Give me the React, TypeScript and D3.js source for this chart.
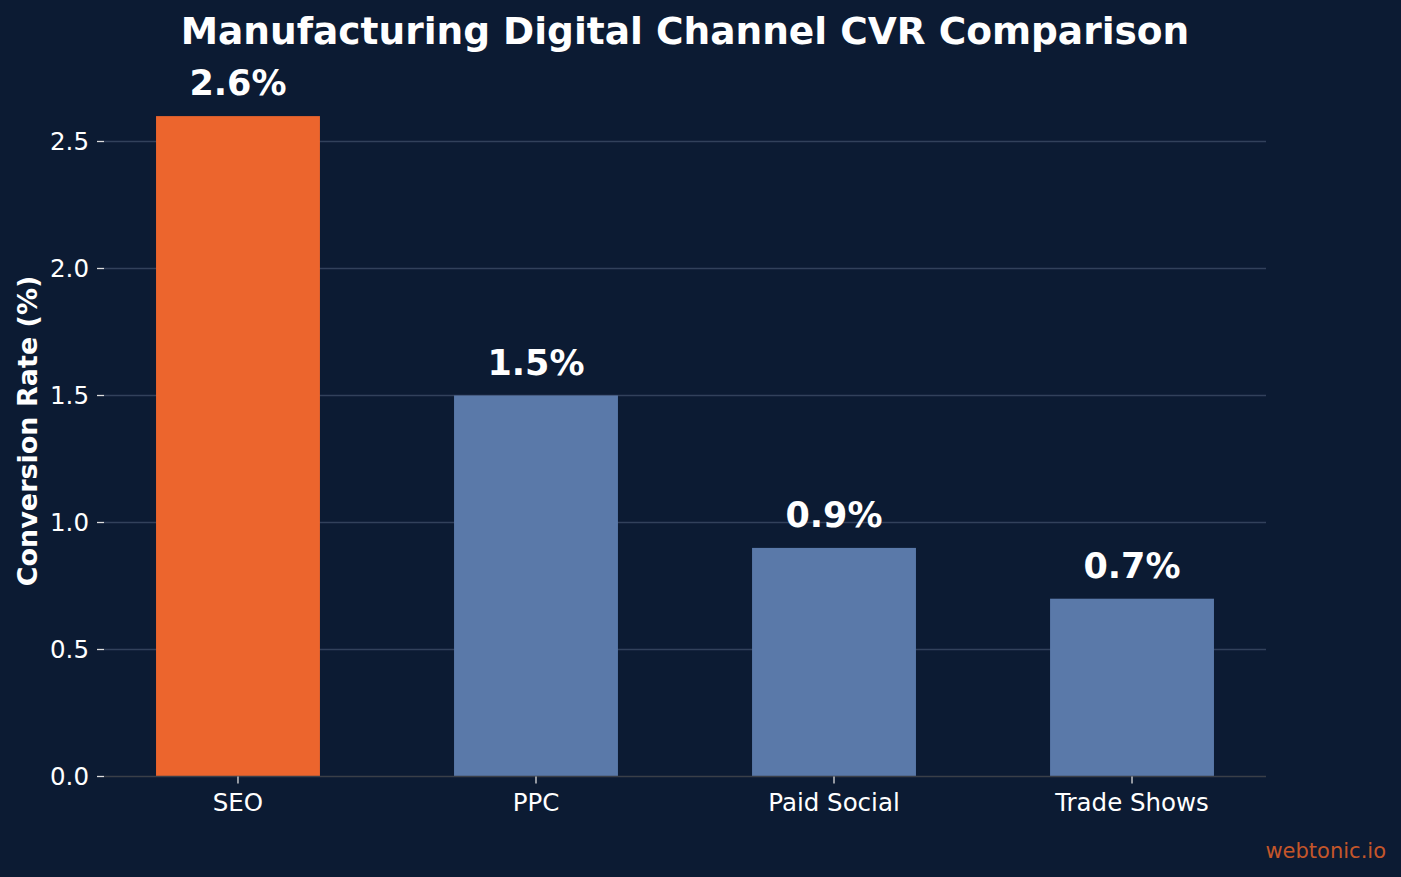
import React from "react";
import * as d3 from "d3";

const channels = ["SEO", "PPC", "Paid Social", "Trade Shows"];
const cvr = [2.6, 1.5, 0.9, 0.7];
const yTicks = [0.0, 0.5, 1.0, 1.5, 2.0, 2.5];

const W = 1401;
const H = 877;
const bg = "#0c1b33";
const font = "'DejaVu Sans', sans-serif";

export default function App() {
  const left = 104;
  const right = 1266;
  const base = 776.5;

  // bar width 0.55 of each slot, plus a 5% margin at both ends
  const x = d3
    .scaleBand<string>()
    .domain(channels)
    .range([left, right])
    .paddingInner(0.45)
    .paddingOuter(0.1746);

  const y = d3.scaleLinear().domain([0, 2.5]).range([base, 141.5]);

  return (
    <svg
      width={W}
      height={H}
      style={{ position: "absolute", left: 0, top: 0, background: bg }}
      fontFamily={font}
    >
      <rect width={W} height={H} fill={bg} />
      <text x={685} y={44} textAnchor="middle" fill="#fff" fontSize={37.5} fontWeight="bold">
        Manufacturing Digital Channel CVR Comparison
      </text>

      {/* gridlines */}
      {yTicks.slice(1).map((t) => (
        <line key={t} x1={left} x2={right} y1={y(t)} y2={y(t)} stroke="#8a9bb8" strokeOpacity={0.3} strokeWidth={1.3} />
      ))}

      {/* bars */}
      {channels.map((c, i) => (
        <g key={c}>
          <rect
            x={x(c)}
            y={y(cvr[i])}
            width={x.bandwidth()}
            height={base - y(cvr[i])}
            fill={i === 0 ? "#ec652d" : "#5a79a9"}
          />
          <text
            x={x(c)! + x.bandwidth() / 2}
            y={y(cvr[i]) - 21}
            textAnchor="middle"
            fill="#fff"
            fontSize={35}
            fontWeight="bold"
          >
            {cvr[i].toFixed(1)}%
          </text>
        </g>
      ))}

      {/* bottom spine */}
      <line x1={left} x2={right} y1={base} y2={base} stroke="#3a3f48" strokeWidth={1.5} />

      {/* y axis ticks */}
      {yTicks.map((t) => (
        <g key={t}>
          <line x1={97} x2={104} y1={y(t)} y2={y(t)} stroke="#dddddd" strokeWidth={1.3} />
          <text x={89} y={y(t)} dy="0.36em" textAnchor="end" fill="#fff" fontSize={24.5}>
            {t.toFixed(1)}
          </text>
        </g>
      ))}

      {/* x axis ticks */}
      {channels.map((c) => {
        const cx = x(c)! + x.bandwidth() / 2;
        return (
          <g key={c}>
            <line x1={cx} x2={cx} y1={base} y2={base + 7} stroke="#dddddd" strokeWidth={1.3} />
            <text x={cx} y={811} textAnchor="middle" fill="#fff" fontSize={24.5}>
              {c}
            </text>
          </g>
        );
      })}

      <text
        transform={`translate(37,431) rotate(-90)`}
        textAnchor="middle"
        fill="#fff"
        fontSize={27}
        fontWeight="bold"
      >
        Conversion Rate (%)
      </text>

      <text x={1386} y={858} textAnchor="end" fill="#c4562a" fontSize={21}>
        webtonic.io
      </text>
    </svg>
  );
}
